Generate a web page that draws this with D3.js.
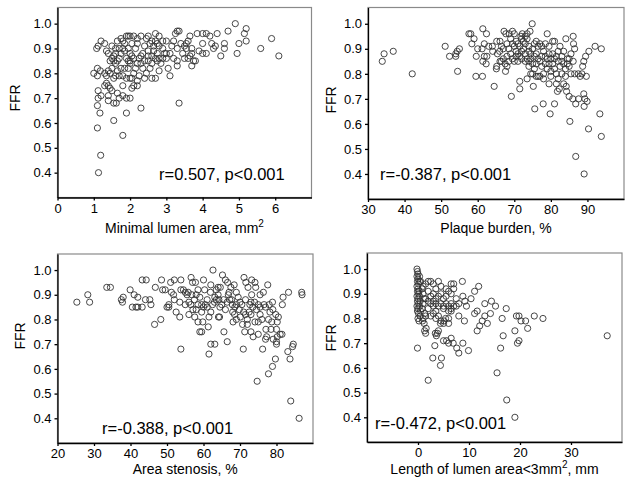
<!DOCTYPE html>
<html>
<head>
<meta charset="utf-8">
<script src="https://cdn.jsdelivr.net/npm/d3@7"></script>
<style>
body{margin:0;background:#fff}
text{font-family:"Liberation Sans",Arial,sans-serif;fill:#000}
</style>
</head>
<body>
<svg id="chart" width="634" height="485"></svg>
<script>
// FFR vs minimal lumen area (mm2)
var mlaData = [[1.0,0.80],[1.08,0.90],[1.12,0.91],[1.2,0.93],[1.3,0.92],[1.35,0.89],[1.4,0.88],[1.1,0.82],[1.18,0.81],[1.3,0.80],[1.4,0.81],[1.35,0.79],[1.1,0.79],[1.4,0.75],[1.35,0.76],[1.5,0.73],[1.45,0.74],[1.4,0.71],[1.4,0.69],[1.12,0.73],[1.12,0.70],[1.2,0.71],[1.1,0.67],[1.17,0.64],[1.1,0.58],[1.19,0.47],[1.13,0.40],[1.55,0.61],[1.55,0.68],[1.62,0.68],[1.7,0.70],[1.8,0.71],[1.8,0.55],[1.9,0.64],[1.9,0.70],[2.0,0.70],[1.8,0.75],[2.1,0.75],[2.05,0.74],[2.2,0.75],[2.3,0.66],[3.35,0.68],[1.65,0.72],[1.3,0.75],
 [1.45,0.85],[1.5,0.86],[1.55,0.85],[1.6,0.84],[1.65,0.85],[1.55,0.87],[1.6,0.88],[1.7,0.86],[1.75,0.88],[1.8,0.90],[1.85,0.92],[1.75,0.94],[1.8,0.93],[1.9,0.95],[1.95,0.95],[2.0,0.95],[2.1,0.95],[1.85,0.89],[1.9,0.86],[1.95,0.85],[2.0,0.85],[2.05,0.87],[2.0,0.88],[2.1,0.86],[2.0,0.84],[1.95,0.82],[1.85,0.82],[1.75,0.82],[1.65,0.81],[1.6,0.79],[1.7,0.79],[1.8,0.79],[1.9,0.78],[2.0,0.78],[2.05,0.78],[2.1,0.80],[2.15,0.82],[2.2,0.84],[2.25,0.86],[2.3,0.87],[1.5,0.82],[1.45,0.80],[1.55,0.78],[1.6,0.90],[1.7,0.90],[1.65,0.93],[1.5,0.91],[2.2,0.77],[2.25,0.79],[2.15,0.90],[2.05,0.92],[1.95,0.90],
 [2.2,0.94],[2.3,0.95],[2.45,0.94],[2.5,0.95],[2.2,0.92],[2.35,0.88],[2.4,0.85],[2.5,0.85],[2.5,0.89],[2.6,0.87],[2.65,0.91],[2.7,0.93],[2.7,0.96],[2.75,0.92],[2.8,0.91],[2.9,0.90],[2.6,0.84],[2.55,0.82],[2.45,0.80],[2.4,0.78],[2.6,0.78],[2.7,0.78],[2.8,0.81],[2.7,0.86],[2.75,0.88],[2.8,0.86],[2.85,0.84],[2.9,0.86],[2.95,0.88],[2.35,0.82],[2.3,0.84],[2.55,0.92],[2.6,0.93],[2.4,0.91],[2.8,0.95],[2.9,0.93],[2.65,0.89],[2.75,0.85],[2.5,0.87],
 [3.0,0.86],[3.0,0.88],[3.0,0.93],[3.05,0.82],[3.1,0.79],[3.2,0.86],[3.2,0.93],[3.25,0.96],[3.3,0.97],[3.35,0.97],[3.3,0.90],[3.3,0.85],[3.3,0.83],[3.4,0.92],[3.5,0.91],[3.55,0.90],[3.6,0.93],[3.65,0.95],[3.7,0.90],[3.65,0.87],[3.6,0.86],[3.7,0.83],[3.75,0.85],[3.8,0.85],[3.85,0.96],[3.9,0.89],[3.1,0.88],[3.15,0.91],[3.45,0.88],[3.5,0.86],[3.7,0.88],[3.55,0.92],
 [4.0,0.96],[4.0,0.92],[4.0,0.88],[4.1,0.88],[4.1,0.96],[4.25,0.92],[4.3,0.90],[4.4,0.96],[4.5,0.87],[4.6,0.92],[4.6,0.90],[4.7,0.97],[4.9,1.00],[4.95,0.88],[5.0,0.92],[5.15,0.96],[5.2,0.98],[5.2,0.93],[5.6,0.90],[5.9,0.94],[6.1,0.87],[4.2,0.95],[4.35,0.91]];

// FFR vs plaque burden (%)
var pbData = [[33.9,0.85],[34.4,0.88],[36.9,0.89],[42.1,0.80],[51.1,0.91],[52.3,0.87],[54.0,0.88],[54.4,0.89],[55.0,0.90],[54.0,0.87],[54.5,0.81],[57.6,0.96],[58.1,0.96],[58.4,0.92],[59.6,0.87],[59.5,0.79],[61.3,0.79],[61.4,0.98],[61.2,0.90],[61.8,0.92],[62.4,0.96],[61.4,0.85],[62.3,0.84],[61.8,0.87],[64.5,0.75],[65.1,0.82],[65.2,0.83],[66.1,0.85],[65.4,0.88],[64.1,0.89],[65.2,0.93],[66.1,0.93],[64.0,0.91],[67.2,0.97],[67.7,0.96],[68.6,0.96],[69.5,0.97],[70.0,0.96],[67.6,0.81],[68.0,0.83],[69.2,0.71],[67.0,0.86],[68.0,0.87],[69.0,0.88],[70.0,0.85],[71.0,0.85],[72.0,0.86],[68.5,0.90],[69.5,0.92],[70.5,0.93],[69.0,0.94],[70.5,0.89],[71.0,0.88],[71.5,0.91],[71.8,0.95],[72.5,0.90],[73.0,0.88],[73.5,0.86],[74.0,0.85],[73.0,0.92],[73.5,0.94],[74.0,0.91],[74.5,0.88],[74.5,0.86],[75.0,0.84],[75.0,0.90],[75.5,0.92],[76.0,0.93],[76.0,0.88],[76.5,0.86],[77.0,0.85],[75.5,0.82],[75.0,0.80],[76.0,0.79],[76.5,0.79],[77.0,0.79],[71.5,0.77],[71.5,0.74],[74.9,1.00],[74.3,0.97],[73.0,0.95],[72.2,0.96],[72.5,0.93],[75.2,0.75],[75.6,0.66],[77.9,0.68],[79.8,0.64],[79.5,0.76],[79.0,0.96],[81.0,0.93],[81.0,0.68],[81.8,0.73],[82.3,0.74],[84.1,0.94],[86.1,0.95],[86.2,0.92],[86.5,0.90],[86.1,0.85],[85.2,0.61],[86.0,0.70],[85.0,0.71],[84.3,0.73],[84.2,0.75],[86.8,0.68],[86.8,0.47],[89.1,0.40],[87.6,0.70],[88.0,0.79],[88.5,0.80],[88.7,0.83],[89.0,0.85],[89.5,0.87],[90.4,0.89],[89.0,0.72],[89.3,0.70],[89.1,0.67],[89.9,0.69],[89.7,0.79],[90.3,0.58],[92.1,0.91],[93.8,0.90],[93.4,0.64],[93.8,0.55],
 [77.5,0.91],[78.0,0.89],[78.5,0.87],[79.0,0.86],[79.5,0.88],[80.0,0.86],[80.5,0.84],[81.0,0.82],[81.5,0.80],[80.0,0.81],[79.0,0.82],[78.5,0.84],[78.0,0.80],[77.5,0.83],[80.5,0.88],[81.0,0.86],[81.5,0.87],[82.0,0.85],[82.5,0.83],[83.0,0.85],[83.5,0.84],[84.0,0.82],[84.5,0.86],[85.0,0.83],[85.5,0.80],[84.0,0.79],[83.0,0.80],[82.0,0.78],[81.5,0.76],[83.5,0.76],[84.5,0.84],[82.5,0.91],[83.5,0.89],[82.0,0.89],[80.5,0.93],[79.5,0.91],[78.5,0.92],[77.0,0.92],[85.5,0.88],[85.0,0.86],[86.5,0.80],[87.5,0.80],[80.0,0.79],[78.0,0.78],[83.0,0.87],[79.5,0.84],
 [66.5,0.85],[67.5,0.84],[68.5,0.85],[69.5,0.86],[70.5,0.87],[71.0,0.92],[72.0,0.94],[73.5,0.96],[70.0,0.91],[67.0,0.90],[66.0,0.89],[68.0,0.92],[73.0,0.85],[74.0,0.83],[74.5,0.80],[73.5,0.78],[76.5,0.91],[77.5,0.87],[72.0,0.89],[71.5,0.87],[76.0,0.84],[75.5,0.87],[74.0,0.89],[66.5,0.91],[63.0,0.91],[62.5,0.87],[60.0,0.90],[59.0,0.94]];

// FFR vs area stenosis (%)
var asData = [[25.3,0.87],[28.3,0.90],[28.8,0.87],[33.5,0.93],[34.5,0.93],[37.5,0.88],[37.8,0.87],[38.0,0.89],[39.9,0.92],[41.0,0.90],[42.0,0.89],[40.5,0.85],[41.5,0.85],[42.0,0.85],[43.2,0.85],[43.2,0.96],[44.3,0.96],[44.1,0.88],[45.3,0.88],[45.6,0.86],[46.6,0.78],[48.3,0.80],[46.8,0.93],[48.5,0.96],[48.8,0.92],[49.5,0.92],[50.5,0.86],[50.5,0.85],[51.0,0.95],[52.0,0.96],[51.2,0.91],[51.8,0.90],[52.5,0.83],[53.5,0.81],[53.8,0.68],[53.5,0.87],[53.8,0.92],[53.8,0.96],[55.0,0.91],[55.8,0.91],[56.8,0.90],[56.6,0.97],[57.0,0.95],[57.8,0.95],[57.1,0.84],[57.6,0.81],[58.5,0.79],[59.0,0.75],[59.5,0.75],[58.5,0.86],[59.5,0.83],[59.8,0.79],[61.3,0.77],[62.0,0.70],[63.1,0.70],[61.5,0.66],[62.6,1.00],[60.3,0.92],[61.9,0.91],[63.1,0.89],[64.0,0.93],[64.6,0.93],[64.2,0.88],[64.4,0.81],[64.1,0.81],[65.6,0.75],[66.5,0.71],[65.2,0.98],[66.0,0.96],[66.6,0.95],[66.8,0.90],[67.2,0.88],[67.7,0.88],[67.9,0.86],[68.4,0.94],[68.6,0.85],[68.1,0.79],[69.5,0.89],[69.8,0.84],[70.1,0.81],[70.7,0.78],[70.9,0.68],[71.3,0.75],[71.1,0.97],[71.6,0.95],[72.2,0.93],[72.7,0.86],[73.2,0.90],[73.2,0.96],[74.1,0.95],[74.3,0.93],[73.0,0.75],[73.6,0.73],[74.1,0.79],[75.0,0.79],[74.7,0.55],[75.0,0.74],[76.4,0.91],[77.6,0.94],[76.6,0.86],[77.0,0.85],[76.2,0.68],[77.0,0.72],[77.3,0.73],[77.1,0.76],[77.8,0.58],[77.8,0.80],[78.2,0.83],[78.9,0.87],[78.7,0.79],[78.9,0.61],[79.1,0.72],[80.0,0.71],[80.0,0.70],[80.2,0.73],[80.0,0.76],[80.2,0.79],[79.8,0.82],[79.7,0.64],[81.0,0.74],[81.5,0.74],[81.6,0.86],[81.8,0.89],[83.3,0.91],[83.1,0.67],[83.7,0.64],[83.9,0.47],[84.4,0.69],[84.6,0.70],[86.2,0.40],[86.9,0.91],[87.0,0.90],
 [54.5,0.92],[55.5,0.90],[56.0,0.87],[56.5,0.86],[57.5,0.88],[58.0,0.90],[58.5,0.92],[59.0,0.89],[59.5,0.86],[60.0,0.85],[60.5,0.86],[61.0,0.85],[61.5,0.81],[62.0,0.83],[62.5,0.86],[63.0,0.87],[63.5,0.88],[64.5,0.85],[65.0,0.86],[65.5,0.88],[66.0,0.84],[66.5,0.87],[67.0,0.91],[68.0,0.83],[69.0,0.86],[70.0,0.87],[70.5,0.86],[71.0,0.83],[71.5,0.82],[72.0,0.80],[72.5,0.83],[73.0,0.82],[73.5,0.85],[74.0,0.87],[74.5,0.84],[75.0,0.86],[75.5,0.85],[76.0,0.80],[75.5,0.82],[72.0,0.78],[71.5,0.88],[69.0,0.91],[67.5,0.93],[63.5,0.92],[60.0,0.96],[58.0,0.84],[55.0,0.86],[52.0,0.88],[50.0,0.85],[56.0,0.82],[61.0,0.88],[62.0,0.94],[64.0,0.90],[68.5,0.82],[73.0,0.87],[75.5,0.90],[78.0,0.86],[79.0,0.84],[80.5,0.81],[78.5,0.76],[69.0,0.80]];

// FFR vs length of lumen area < 3 mm2 (mm)
var lenData = [[-0.2,1.00],[-0.1,0.99],[0.0,0.98],[-0.2,0.97],[0.0,0.96],[-0.1,0.95],[0.1,0.94],[-0.2,0.93],[0.0,0.92],[-0.1,0.91],[0.1,0.90],[-0.2,0.89],[0.0,0.88],[-0.1,0.87],[0.1,0.86],[-0.2,0.85],[0.0,0.84],[-0.1,0.83],[0.1,0.82],[0.0,0.80],[-0.1,0.68],[0.3,0.97],[0.3,0.95],[0.2,0.91],[0.3,0.89],[0.4,0.87],[0.3,0.85],[0.5,0.83],[0.4,0.81],[0.2,0.79],
 [0.8,0.92],[1.0,0.90],[1.2,0.88],[1.0,0.86],[0.8,0.84],[1.3,0.82],[1.0,0.80],[0.9,0.79],[1.2,0.78],[1.5,0.74],[1.6,0.76],[1.3,0.75],[2.0,0.55],[2.9,0.64],[3.3,0.69],[3.4,0.74],[3.6,0.73],[4.0,0.75],[3.8,0.74],[4.4,0.61],[4.6,0.64],[5.0,0.71],[5.6,0.71],[6.0,0.70],[6.5,0.72],[6.9,0.70],[7.6,0.68],[8.0,0.66],[8.8,0.70],[9.9,0.67],[4.4,0.78],[5.1,0.79],[5.4,0.80],[6.0,0.78],[8.0,0.81],[9.1,0.79],[8.7,0.95],[8.8,0.89],[9.2,0.87],[9.5,0.85],[10.4,0.88],[11.1,0.91],[11.9,0.93],[11.1,0.82],[11.6,0.83],[11.6,0.75],[12.1,0.77],[12.6,0.79],[13.1,0.81],[13.1,0.86],[13.6,0.78],[14.2,0.82],[14.4,0.87],[15.2,0.85],[15.5,0.58],[16.2,0.68],[16.7,0.73],[16.5,0.80],[17.3,0.84],[17.4,0.47],[19.0,0.40],[19.0,0.75],[19.3,0.81],[19.8,0.81],[19.8,0.71],[19.5,0.70],[20.2,0.79],[21.1,0.79],[21.5,0.76],[22.8,0.81],[24.5,0.80],[37.1,0.73],
 [1.5,0.94],[2.0,0.95],[2.5,0.95],[3.0,0.94],[3.5,0.92],[4.0,0.95],[4.5,0.93],[2.0,0.91],[2.5,0.89],[3.0,0.90],[1.5,0.88],[2.0,0.87],[2.5,0.86],[3.0,0.85],[3.5,0.86],[4.0,0.85],[4.5,0.86],[5.0,0.85],[5.5,0.86],[6.0,0.85],[6.5,0.84],[7.0,0.85],[6.5,0.86],[5.5,0.89],[6.0,0.91],[6.5,0.94],[7.0,0.94],[7.0,0.92],[6.5,0.90],[5.0,0.88],[4.5,0.90],[3.5,0.88],[2.0,0.84],[3.0,0.82],[3.5,0.80],[4.0,0.81],[5.0,0.84],[6.0,0.83],[7.5,0.88],[8.0,0.86],[1.5,0.81],[2.5,0.81],[3.5,0.83],[4.5,0.79],[6.5,0.83],[7.5,0.85],[5.5,0.92],[3.0,0.87],[1.0,0.93],[0.5,0.95],[4.0,0.89],[5.0,0.78],[6.0,0.80]];

var ffrTicks = [0.4, 0.5, 0.6, 0.7, 0.8, 0.9, 1.0];
var mlaTicks = [0, 1, 2, 3, 4, 5, 6];
var pbTicks = [30, 40, 50, 60, 70, 80, 90];
var asTicks = [20, 30, 40, 50, 60, 70, 80];
var lenTicks = [0, 10, 20, 30];

var svg = d3.select("#chart");

var panels = [
	{data: mlaData, xDom: [0, 7], ticks: mlaTicks, x0: 57.5, x1: 311.5, y0: 7.5, y1: 197.5,
	 title: ["Minimal lumen area, mm", "2", ""], titleY: 233, ffrX: 15, ffrY: 98,
	 stat: "r=0.507, p<0.001", statX: 159, statY: 180},
	{data: pbData, xDom: [30, 100], ticks: pbTicks, x0: 368, x1: 624, y0: 7.5, y1: 199,
	 title: ["Plaque burden, %", "", ""], titleY: 233, ffrX: 331, ffrY: 100,
	 stat: "r=-0.387, p<0.001", statX: 380, statY: 180},
	{data: asData, xDom: [20, 90], ticks: asTicks, x0: 57.5, x1: 313, y0: 254, y1: 443,
	 title: ["Area stenosis, %", "", ""], titleY: 474, ffrX: 20, ffrY: 336,
	 stat: "r=-0.388, p<0.001", statX: 102, statY: 434},
	{data: lenData, xDom: [-10, 40], ticks: lenTicks, x0: 367, x1: 622, y0: 253, y1: 442,
	 title: ["Length of lumen area<3mm", "2", ", mm"], titleY: 474, ffrX: 331, ffrY: 338,
	 stat: "r=-0.472, p<0.001", statX: 375, statY: 429}
];

panels.forEach(function(p){
	var x = d3.scaleLinear().domain(p.xDom).range([p.x0, p.x1]);
	var y = d3.scaleLinear().domain([0.3, 1.065]).range([p.y1, p.y0]);
	var g = svg.append("g");

	// frame (top/right in grey)
	g.append("rect")
		.attr("x", p.x0).attr("y", p.y0)
		.attr("width", p.x1 - p.x0).attr("height", p.y1 - p.y0)
		.attr("fill", "none").attr("stroke", "#8a8a8a").attr("stroke-width", 1.2);

	var xAxis = g.append("g")
		.attr("transform", "translate(0," + p.y1 + ")")
		.call(d3.axisBottom(x).tickValues(p.ticks).tickSize(3).tickSizeOuter(0).tickFormat(d3.format("d")));
	var yAxis = g.append("g")
		.attr("transform", "translate(" + p.x0 + ",0)")
		.call(d3.axisLeft(y).tickValues(ffrTicks).tickSize(3).tickSizeOuter(0).tickFormat(d3.format(".1f")));
	[xAxis, yAxis].forEach(function(a){
		a.select(".domain").attr("stroke", "#000").attr("stroke-width", 1.3);
		a.selectAll(".tick line").attr("stroke", "#000").attr("stroke-width", 1.3);
		a.selectAll("text").attr("font-size", 13).attr("font-family", "Liberation Sans, Arial, sans-serif").attr("fill", "#000");
	});

	g.selectAll("circle.pt")
		.data(p.data)
		.enter()
		.append("circle")
		.attr("class", "pt")
		.attr("cx", function(d){ return x(d[0]); })
		.attr("cy", function(d){ return y(d[1]); })
		.attr("r", 3.1)
		.attr("fill", "none")
		.attr("stroke", "#333")
		.attr("stroke-width", 0.9);

	g.append("text")
		.attr("x", p.statX).attr("y", p.statY)
		.attr("font-size", 16.5)
		.text(p.stat);

	g.append("text")
		.attr("transform", "translate(" + p.ffrX + "," + p.ffrY + ") rotate(-90)")
		.attr("text-anchor", "middle")
		.attr("dy", "0.35em")
		.attr("font-size", 14)
		.text("FFR");

	var t = g.append("text")
		.attr("x", (p.x0 + p.x1) / 2).attr("y", p.titleY)
		.attr("text-anchor", "middle")
		.attr("font-size", 14);
	t.append("tspan").text(p.title[0]);
	if (p.title[1]) {
		t.append("tspan").attr("dy", -6).attr("font-size", 10).text(p.title[1]);
		t.append("tspan").attr("dy", 6).text(p.title[2]);
	}
});
</script>
</body>
</html>
